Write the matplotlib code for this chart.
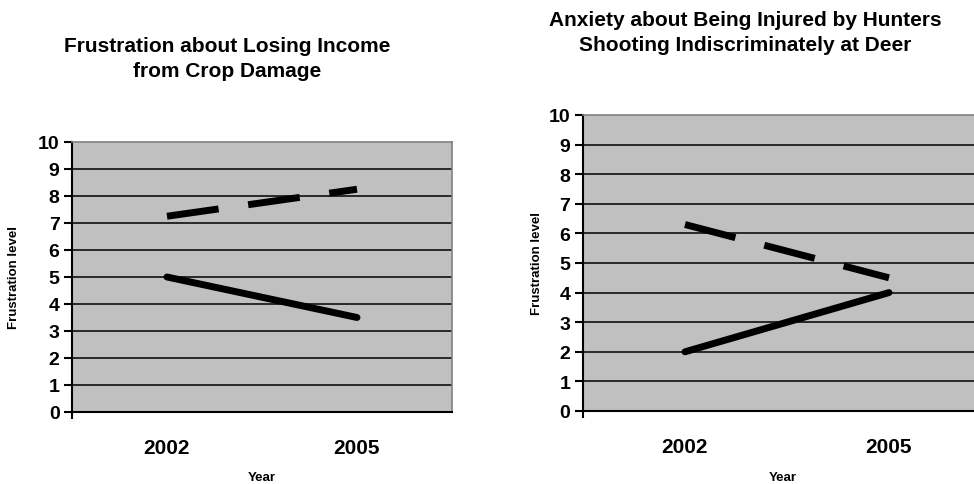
import matplotlib
matplotlib.use('Agg')
import matplotlib.pyplot as plt

plt.rcParams['font.family'] = ['Liberation Sans', 'DejaVu Sans']
plt.rcParams['font.weight'] = 'bold'

# data
years = ['2002', '2005']
crop_solid = [5.0, 3.5]
crop_dashed = [7.25, 8.25]
hunt_solid = [2.0, 4.0]
hunt_dashed = [6.3, 4.5]
y_ticks = list(range(0, 11))

titles = ['Frustration about Losing Income\nfrom Crop Damage',
          'Anxiety about Being Injured by Hunters\nShooting Indiscriminately at Deer']

fig = plt.figure(figsize=(9.74, 4.85), dpi=100)

# axes boxes in figure fraction (right one runs off the edge like the original)
ax1 = fig.add_axes([72 / 974, 72 / 485, 380 / 974, 270 / 485])
ax2 = fig.add_axes([583 / 974, 73 / 485, 408 / 974, 296 / 485])


def draw_panel(ax, solid, dashed, ylab_xy, xlab_xy):
    ax.set_facecolor('#C0C0C0')
    x = [0.5, 1.5]
    ax.set_xlim(0, 2)
    ax.set_ylim(0, 10)
    for v in y_ticks[1:-1]:
        ax.axhline(v, color='black', lw=1.1, zorder=1)
    ax.plot(x, solid, color='black', lw=5, solid_capstyle='round', zorder=3)
    ax.plot(x, dashed, color='black', lw=5, ls=(0, (7.5, 4.3)),
            dash_capstyle='butt', zorder=3)

    ax.set_yticks(y_ticks)
    ax.set_yticklabels([str(v) for v in y_ticks], fontsize=14, fontweight='bold')
    ax.tick_params(axis='y', direction='out', length=6, width=1.5, pad=3)

    ax.set_xticks(x)
    ax.set_xticklabels(years, fontsize=15, fontweight='bold')
    ax.tick_params(axis='x', length=0, pad=19)
    ax.set_xticks([0], minor=True)
    ax.tick_params(axis='x', which='minor', direction='out', length=5, width=1.5)

    for side in ['left', 'bottom']:
        ax.spines[side].set_color('black')
        ax.spines[side].set_linewidth(1.5)
    for side in ['top', 'right']:
        ax.spines[side].set_color('#808080')
        ax.spines[side].set_linewidth(1.2)

    ax.set_ylabel('Frustration level', fontsize=9.5, fontweight='bold')
    ax.set_xlabel('Year', fontsize=9.5, fontweight='bold')
    ax.yaxis.set_label_coords(*ylab_xy)
    ax.xaxis.set_label_coords(*xlab_xy)


draw_panel(ax1, crop_solid, crop_dashed, (-0.137, 0.5), (0.5, -0.219))
draw_panel(ax2, hunt_solid, hunt_dashed, (-0.098, 0.5), (0.49, -0.203))

fig.text(227 / 974, 1 - 59 / 485, titles[0], ha='center', va='center',
         fontsize=15, fontweight='bold', linespacing=1.45)
fig.text(745 / 974, 1 - 33 / 485, titles[1], ha='center', va='center',
         fontsize=15, fontweight='bold', linespacing=1.45)

fig.savefig('out.png', dpi=100)
